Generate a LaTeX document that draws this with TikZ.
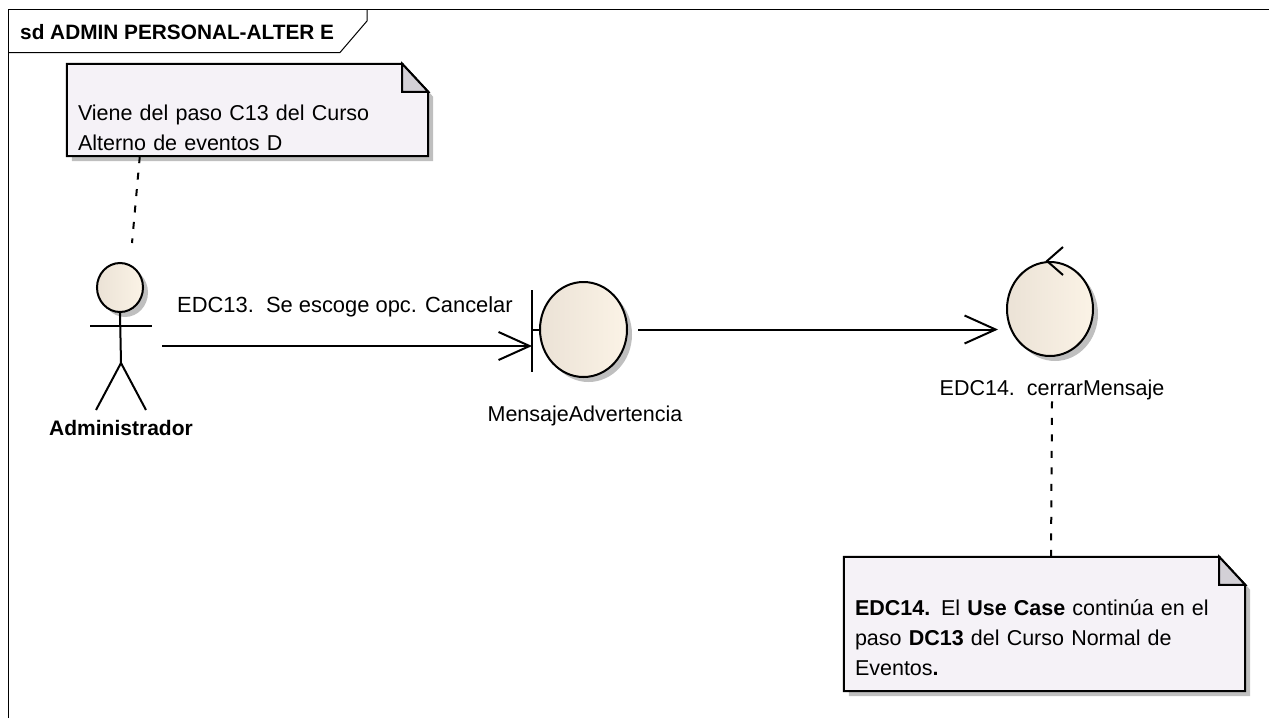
\documentclass[tikz,border=0pt]{standalone}
\usepackage{fontspec}
\setmainfont{Liberation Sans}
\usetikzlibrary{arrows.meta,shapes.geometric,shadows,backgrounds}
\definecolor{notefill}{HTML}{F5F2F7}
\definecolor{foldfill}{HTML}{D3D0D6}
\definecolor{beigeA}{HTML}{EBE2D6}
\definecolor{beigeB}{HTML}{FBF3E6}
\tikzset{
  umltext/.style={font=\fontsize{21.5}{30}\selectfont,inner sep=0pt},
  umlline/.style={draw=black,line width=2pt},
  umlarrow/.style={umlline,-{Straight Barb[length=31pt,width=28pt,line width=2pt]}},
  notelink/.style={draw=black,line width=2pt,dash pattern=on 7pt off 9.5pt},
  robust/.style={ellipse,draw=black,line width=2pt,inner sep=0pt,left color=beigeA,right color=beigeB,
    drop shadow={shadow xshift=5pt,shadow yshift=-5pt,fill=black!25,opacity=1}},
  notebox/.style={umltext,inner xsep=11pt,align=left,anchor=center},
}
\begin{document}
\begin{tikzpicture}[x=1pt,y=-1pt]
  \useasboundingbox (0,0) rectangle (1269,718);
  % frame
  \draw[line width=1pt] (8,718)--(8,9)--(1269,9);
  \draw[line width=1pt] (8,52.5)--(340,52.5)--(367,21)--(367,9);
  \node[umltext,font=\bfseries\fontsize{20.8}{24}\selectfont,anchor=west](frametitle) at(20,32) {sd ADMIN PERSONAL-ALTER E};
  % notes
  \node[notebox,text width=339pt,minimum height=92pt](noteA) at(247.5,110)
    {\strut\\Viene del paso C13 del Curso\\Alterno de eventos D};
  \node[notebox,text width=379pt,minimum height=134pt](noteB) at(1044.5,624)
    {\strut\\[-8pt]\textbf{EDC14.} El \textbf{Use Case} continúa en el\\paso \textbf{DC13} del Curso Normal de\\Eventos\textbf{.}};
  \begin{scope}[on background layer]
    \foreach \n in {noteA,noteB}{
      \fill[black!25] ([shift={(5pt,-5pt)}]\n.south west)--([shift={(5pt,-5pt)}]\n.north west)--([shift={(-21pt,-5pt)}]\n.north east)--([shift={(5pt,-33pt)}]\n.north east)--([shift={(5pt,-5pt)}]\n.south east)--cycle;
      \draw[umlline,fill=notefill] (\n.south west)--(\n.north west)--([xshift=-26pt]\n.north east)--([yshift=-28pt]\n.north east)--(\n.south east)--cycle;
      \draw[umlline,fill=foldfill] ([xshift=-26pt]\n.north east)--([xshift=-26pt,yshift=-28pt]\n.north east)--([yshift=-28pt]\n.north east)--cycle;
    }
  \end{scope}
  % actor
  \node[robust,minimum width=46pt,minimum height=49pt](head) at(120,287.5) {};
  \node[minimum width=82pt,minimum height=166pt,inner sep=0pt](actor) at(121,346) {};
  \draw[umlline] (head.south)--(121,363);
  \draw[umlline] (90,326)--(152,326);
  \draw[umlline] (96,410)--(121,363)--(146,410);
  \node[umltext,font=\bfseries\fontsize{21}{24}\selectfont](actorname) at(121,428) {Administrador};
  % boundary
  \node[robust,minimum width=87pt,minimum height=95pt](adv) at(583.5,329.5) {};
  \draw[umlline] (adv.west)--++(-8,0);
  \draw[umlline] (532,290)--(532,372);
  \node[umltext](advname) at(585,416) {MensajeAdvertencia};
  % control
  \node[robust,minimum width=86pt,minimum height=94pt](ctl) at(1050,309) {};
  \draw[umlline] ([xshift=13pt,yshift=14pt]ctl.north)--([xshift=-3pt]ctl.north)--([xshift=13pt,yshift=-14pt]ctl.north);
  \node[umltext](ctlname) at(1052,390) {EDC14.\ \ cerrarMensaje};
  % connectors
  \draw[umlarrow] (actor.east)--(actor.east -| 532,0);
  \node[umltext,font=\fontsize{21.9}{30}\selectfont,anchor=west](msg) at(177,307) {EDC13.\ \ Se escoge opc. Cancelar};
  \draw[umlarrow,shorten <=10pt,shorten >=8pt] (adv.east)--(adv.east -| ctl.west);
  \coordinate (actortop) at(132,243);
  \draw[notelink] ([xshift=73pt]noteA.south west)--(actortop);
  \draw[notelink] ([xshift=6.5pt]noteB.north)--([yshift=-1pt]ctlname.south);
\end{tikzpicture}
\end{document}
